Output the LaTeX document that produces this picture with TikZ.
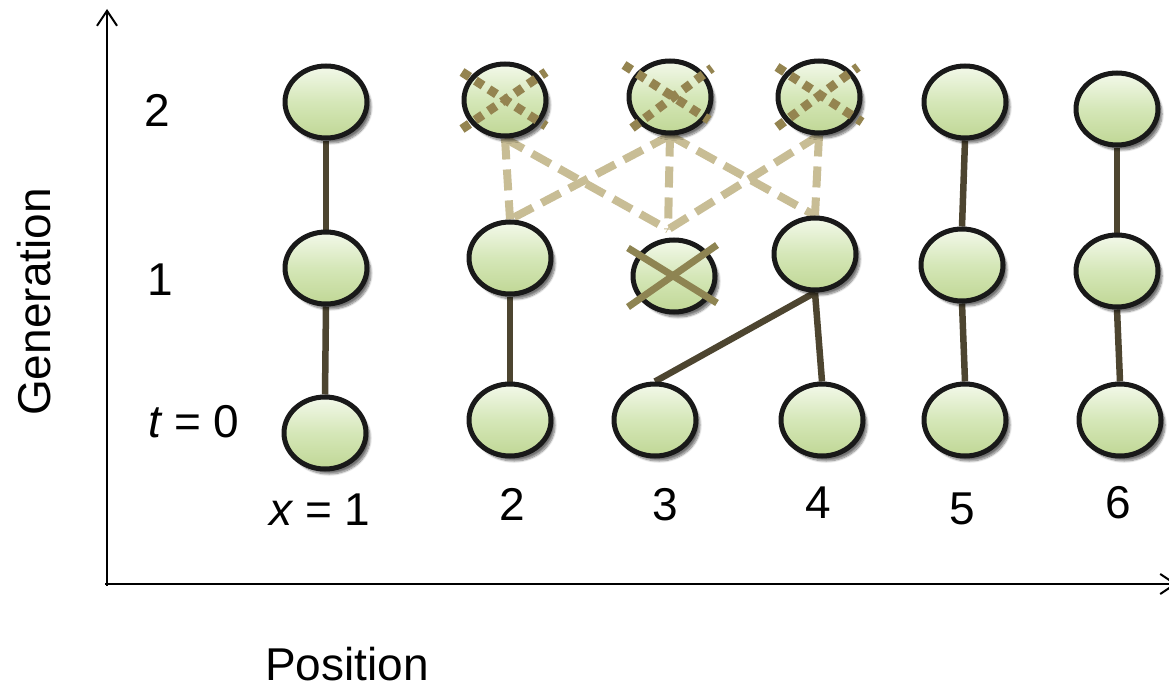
\documentclass[tikz,border=0pt]{standalone}
\usepackage{fontspec}
\setmainfont{Liberation Sans}
\usetikzlibrary{shapes.geometric,arrows.meta,shadows.blur,calc,backgrounds}
\definecolor{balltop}{HTML}{F3F9EA}
\definecolor{ballmid}{HTML}{D5E7B8}
\definecolor{ballbot}{HTML}{C0D795}
\definecolor{solidc}{HTML}{4D4530}
\definecolor{dashc}{HTML}{C8BD95}
\definecolor{dotc}{HTML}{948450}
\definecolor{crossc}{HTML}{8E8452}
\begin{document}
\begin{tikzpicture}[x=1pt,y=-1pt,
  ball/.style={ellipse, draw=black!90, line width=5pt, minimum width=82pt, minimum height=72pt, inner sep=0pt,
    top color=balltop, bottom color=ballbot, middle color=ballmid,
    blur shadow={shadow xshift=4pt, shadow yshift=-5pt, shadow blur steps=8, shadow opacity=55}},
  solidedge/.style={draw=solidc, line width=6.5pt},
  dashedge/.style={draw=dashc, line width=8pt, dash pattern=on 21pt off 10pt},
  dotx/.style={draw=dotc, line width=9pt, dash pattern=on 9pt off 7pt},
  crossx/.style={draw=crossc, line width=7pt},
  axis/.style={line width=2pt, -{Straight Barb[length=15pt,width=20pt,line width=2pt]}},
  lbl/.style={font=\fontsize{46}{50}\selectfont, inner sep=0pt, anchor=base}
]
\useasboundingbox (0,0) rectangle (1169,690);

% axes
\coordinate (ybot) at (107,586);
\coordinate (ytip) at (107,9);
\coordinate (xleft) at (105,584);
\coordinate (xtip) at (1177,584);
\draw[axis] (ybot) -- (ytip);
\draw[axis] (xleft) -- (xtip);

% nodes: n<column><generation>
\node[ball] (n12) at (326,102) {};
\node[ball] (n22) at (505,100) {};
\node[ball] (n32) at (670,97) {};
\node[ball] (n42) at (819,97) {};
\node[ball] (n52) at (965,102) {};
\node[ball] (n62) at (1117,109) {};
\node[ball] (n11) at (326,268) {};
\node[ball] (n21) at (510,258) {};
\node[ball] (n31) at (674,276) {};
\node[ball] (n41) at (815,254) {};
\node[ball] (n51) at (962,265) {};
\node[ball] (n61) at (1117,271) {};
\node[ball] (n10) at (325,433) {};
\node[ball] (n20) at (510,420) {};
\node[ball] (n30) at (655,420) {};
\node[ball] (n40) at (822,420) {};
\node[ball] (n50) at (965,420) {};
\node[ball] (n60) at (1120,420) {};

% connectors (behind the nodes)
\begin{pgfonlayer}{background}
\draw[dashedge] (n22.south) -- (n21.north);
\draw[dashedge] (n22.south) -- ($(n31.north)+(-6,-8)$);
\draw[dashedge] (n32.south) -- (n21.north);
\draw[dashedge] (n32.south) -- ($(n31.north)+(-6,-8)$);
\draw[dashedge] (n32.south) -- (n41.north);
\draw[dashedge] (n42.south) -- ($(n31.north)+(-6,-8)$);
\draw[dashedge] (n42.south) -- (n41.north);

\draw[solidedge] (n12.south) -- (n11.north);
\draw[solidedge] (n11.south) -- (n10.north);
\draw[solidedge] (n21.south) -- (n20.north);
\draw[solidedge] (n41.south) -- (n30.north);
\draw[solidedge] (n41.south) -- (n40.north);
\draw[solidedge] (n52.south) -- (n51.north);
\draw[solidedge] (n51.south) -- (n50.north);
\draw[solidedge] (n62.south) -- (n61.north);
\draw[solidedge] (n61.south) -- (n60.north);
\end{pgfonlayer}

% crosses
\draw[dotx] ($(n22)+(-43,-28)$) -- ($(n22)+(41,26)$);
\draw[dotx] ($(n22)+(-43,29)$) -- ($(n22)+(41,-28)$);
\draw[dotx] ($(n32)+(-46,-32)$) -- ($(n32)+(39,23)$);
\draw[dotx] ($(n32)+(-38,31)$) -- ($(n32)+(42,-29)$);
\draw[dotx] ($(n42)+(-42,-30)$) -- ($(n42)+(43,25)$);
\draw[dotx] ($(n42)+(-42,30)$) -- ($(n42)+(39,-30)$);
\draw[crossx] ($(n31)+(-46,-28)$) -- ($(n31)+(43,27)$);
\draw[crossx] ($(n31)+(-46,31)$) -- ($(n31)+(43,-31)$);

% labels
\node[lbl] (g2) at (157,127) {2};
\node[lbl] (g1) at (160,295) {1};
\node[lbl] (g0) at (194,437) {{\itshape t} = 0};
\node[lbl] (x1) at (320,525) {{\itshape x} = 1};
\node[lbl] (x2) at (512,520) {2};
\node[lbl] (x3) at (665,520) {3};
\node[lbl] (x4) at (818,518) {4};
\node[lbl] (x5) at (962,524) {5};
\node[lbl] (x6) at (1118,518) {6};
\node[lbl] (xlab) at (347,680) {Position};
\node[lbl, rotate=90] (ylab) at (50,302) {Generation};
\end{tikzpicture}
\end{document}
